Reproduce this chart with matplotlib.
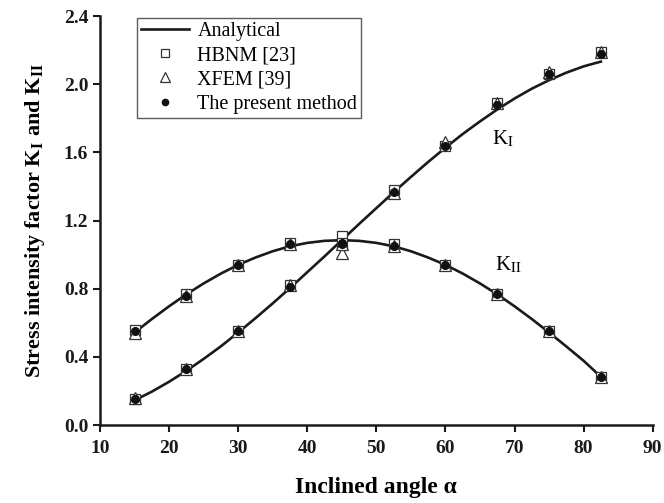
import numpy as np
import matplotlib.pyplot as plt
from matplotlib.lines import Line2D

plt.rcParams['font.family'] = ['Liberation Serif', 'DejaVu Serif']
plt.rcParams['mathtext.fontset'] = 'stix'

# analytical curves
ang_fine = [15, 17.5, 20, 22.5, 25, 27.5, 30, 32.5, 35, 37.5, 40, 42.5, 45, 47.5,
            50, 52.5, 55, 57.5, 60, 62.5, 65, 67.5, 70, 72.5, 75, 77.5, 80, 82.5]
ki_analytic = [0.145, 0.196, 0.254, 0.318, 0.388, 0.462, 0.543, 0.627, 0.714, 0.804,
               0.897, 0.990, 1.085, 1.180, 1.273, 1.366, 1.456, 1.544, 1.628, 1.708,
               1.782, 1.852, 1.916, 1.974, 2.024, 2.068, 2.105, 2.133]
kii_analytic = [0.543, 0.622, 0.697, 0.767, 0.831, 0.889, 0.940, 0.983, 1.020, 1.049,
                1.069, 1.081, 1.085, 1.081, 1.069, 1.049, 1.020, 0.983, 0.940, 0.889,
                0.831, 0.767, 0.697, 0.622, 0.543, 0.461, 0.377, 0.283]

# numerical results
angles = [15, 22.5, 30, 37.5, 45, 52.5, 60, 67.5, 75, 82.5]
ki_hbnm = [0.15, 0.33, 0.55, 0.82, 1.11, 1.38, 1.64, 1.89, 2.06, 2.19]
ki_xfem = [0.16, 0.33, 0.55, 0.82, 1.01, 1.36, 1.66, 1.89, 2.07, 2.19]
ki_present = [0.15, 0.33, 0.55, 0.81, 1.07, 1.37, 1.64, 1.88, 2.06, 2.18]
kii_hbnm = [0.56, 0.77, 0.94, 1.07, 1.07, 1.06, 0.94, 0.77, 0.55, 0.28]
kii_xfem = [0.54, 0.76, 0.94, 1.06, 1.06, 1.05, 0.94, 0.77, 0.55, 0.28]
kii_present = [0.55, 0.76, 0.94, 1.06, 1.06, 1.05, 0.94, 0.77, 0.55, 0.28]

fig = plt.figure(figsize=(6.64, 5.03), dpi=100)
ax = fig.add_axes([0.1506, 0.155, 0.8324, 0.813])

lw = 1.9
ax.plot(ang_fine, ki_analytic, color='#1a1a1a', lw=lw, zorder=2)
ax.plot(ang_fine, kii_analytic, color='#1a1a1a', lw=lw, zorder=2)

for hb, xf, pm in [(ki_hbnm, ki_xfem, ki_present), (kii_hbnm, kii_xfem, kii_present)]:
    ax.plot(angles, hb, ls='none', marker='s', ms=7, mfc='white', mec='#333333', mew=0.9, zorder=3)
    ax.plot(angles, xf, ls='none', marker='^', ms=8, mfc='white', mec='#333333', mew=0.9, zorder=3)
    ax.plot(angles, pm, ls='none', marker='o', ms=5.5, mfc='#111111', mec='#111111', zorder=4)

ax.text(66.8, 1.68, r'K$_{\mathrm{I}}$', fontsize=15, va='center')
ax.text(67.2, 0.94, r'K$_{\mathrm{II}}$', fontsize=15, va='center')

ax.set_xlim(10, 90)
ax.set_ylim(0, 2.4)
ax.set_xticks(np.arange(10, 91, 10))
ax.set_yticks(np.arange(0, 2.41, 0.4))
ax.set_yticklabels(['%.1f' % v for v in np.arange(0, 2.41, 0.4)])
for lab in ax.get_xticklabels() + ax.get_yticklabels():
    lab.set_fontweight('bold')
ax.tick_params(direction='out', length=5, width=1.5, labelsize=14, colors='#1a1a1a')
ax.tick_params(axis='x', pad=6)
ax.spines['top'].set_visible(False)
ax.spines['right'].set_visible(False)
for s in ['left', 'bottom']:
    ax.spines[s].set_linewidth(1.8)
    ax.spines[s].set_color('#1a1a1a')

ax.set_xlabel('Inclined angle α', fontsize=17, fontweight='bold', labelpad=14)
ax.set_ylabel(r'Stress intensity factor K$_{\mathbf{I}}$ and K$_{\mathbf{II}}$',
              fontsize=16, fontweight='bold', labelpad=12)

handles = [
    Line2D([], [], color='#1a1a1a', lw=lw),
    Line2D([], [], ls='none', marker='s', ms=6, mfc='white', mec='#333333', mew=0.9),
    Line2D([], [], ls='none', marker='^', ms=7, mfc='white', mec='#333333', mew=0.9),
    Line2D([], [], ls='none', marker='o', ms=4.5, mfc='#111111', mec='#111111'),
]
leg = ax.legend(handles, ['Analytical', 'HBNM [23]', 'XFEM [39]', 'The present method'],
                loc='upper left', bbox_to_anchor=(0.067, 0.995), borderaxespad=0,
                fontsize=14.5, frameon=True, fancybox=False, edgecolor='#333333',
                handlelength=2.4, borderpad=0.2, labelspacing=0.25, handletextpad=0.4)
leg.get_frame().set_linewidth(1.0)

fig.savefig('out.png', dpi=100)
